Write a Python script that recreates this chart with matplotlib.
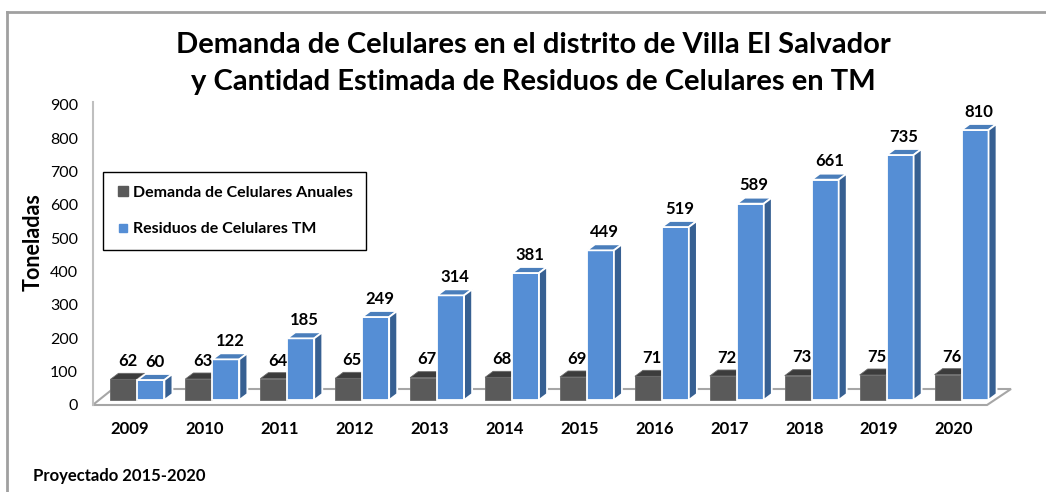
import numpy as np
import matplotlib.pyplot as plt
from matplotlib.patches import Polygon
from matplotlib.lines import Line2D

plt.rcParams['font.family'] = ['Lato', 'DejaVu Sans']

years = ['2009', '2010', '2011', '2012', '2013', '2014',
         '2015', '2016', '2017', '2018', '2019', '2020']
demanda = [62, 63, 64, 65, 67, 68, 69, 71, 72, 73, 75, 76]
residuos = [60, 122, 185, 249, 314, 381, 449, 519, 589, 661, 735, 810]

W, H = 1046, 492
fig = plt.figure(figsize=(W / 100, H / 100), dpi=100)
ax = fig.add_axes([85 / W, 1 - 415 / H, (1020 - 85) / W, (415 - 95) / H])
ax.set_xlim(-0.6, 11.88)
ax.set_ylim(-30, 930)

# pseudo 3d settings (data units)
base = 15
dx = 0.107
dy = 18

gray_c = ('#5a5a5a', '#3c3c3c', '#333333')
blue_c = ('#558ed5', '#4a7ebb', '#376092')

x = np.arange(len(years))

# floor and wall
ax.add_patch(Polygon([(-0.497, 0), (11.44, 0), (11.76, 48), (-0.23, 48)],
                     closed=True, fc='white', ec='#a6a6a6', lw=1.5, zorder=1))
ax.plot([-0.497, -0.497], [0, 909], color='#bfbfbf', lw=1.5, zorder=1)


def faces(x0, w, h, cols, z, ec, lw):
    x1 = x0 + w
    y1 = base + h
    top = [(x0, y1), (x0 + dx, y1 + dy), (x1 + dx, y1 + dy), (x1, y1)]
    side = [(x1, base), (x1 + dx, base + dy), (x1 + dx, y1 + dy), (x1, y1)]
    ax.add_patch(Polygon(top, closed=True, fc=cols[1], ec=ec, lw=lw, zorder=z))
    ax.add_patch(Polygon(side, closed=True, fc=cols[2], ec=ec, lw=lw, zorder=z))


gw, bw = 0.35, 0.36
gx = x - 0.26
bx = x + 0.10

ax.bar(gx, demanda, width=gw, bottom=base, align='edge', color=gray_c[0],
       edgecolor='#6a6a6a', lw=0.6, zorder=3)
for xi, v in zip(gx, demanda):
    faces(xi, gw, v, gray_c, 3, '#6a6a6a', 0.6)

ax.bar(bx, residuos, width=bw, bottom=base, align='edge', color=blue_c[0],
       edgecolor='white', lw=1.3, zorder=4)
for xi, v in zip(bx, residuos):
    faces(xi, bw, v, blue_c, 4, 'white', 1.3)

for xi, v in zip(gx, demanda):
    ax.annotate(str(v), (xi + gw / 2 + dx / 2, base + v + dy), xytext=(0, 3),
                textcoords='offset points', ha='center', va='bottom',
                fontsize=12, fontweight='bold', zorder=6)
for xi, v in zip(bx, residuos):
    ax.annotate(str(v), (xi + bw / 2 + dx / 2, base + v + dy), xytext=(0, 3),
                textcoords='offset points', ha='center', va='bottom',
                fontsize=12, fontweight='bold', zorder=6)

for s in ax.spines.values():
    s.set_visible(False)
ax.set_yticks(range(0, 901, 100))
ax.set_xticks(x)
ax.set_xticklabels(years, fontweight='bold', fontsize=12)
ax.tick_params(axis='y', length=0, pad=5, labelsize=11.5)
ax.tick_params(axis='x', length=0, pad=4)

# legend
handles = [Line2D([], [], marker='s', ls='none', color=gray_c[0], markersize=7.5),
           Line2D([], [], marker='s', ls='none', color=blue_c[0], markersize=5.5)]
leg = fig.legend(handles, ['Demanda de Celulares Anuales', 'Residuos de Celulares TM'],
                 loc='upper left', bbox_to_anchor=(103 / W, 1 - 172 / H),
                 borderaxespad=0, frameon=True, fancybox=False, framealpha=1,
                 edgecolor='black', labelspacing=1.4, handletextpad=0.2,
                 handlelength=0.8, borderpad=0.85,
                 prop={'weight': 'bold', 'size': 11.5})
leg.get_frame().set_linewidth(1)

# titles and texts
tfam = ['Lato', 'DejaVu Sans']
fig.text(533 / W, 1 - 45 / H, 'Demanda de Celulares en el distrito de Villa El Salvador',
         ha='center', va='center', fontsize=21, fontweight='bold', family=tfam)
fig.text(533 / W, 1 - 82 / H, 'y Cantidad Estimada de Residuos de Celulares en TM',
         ha='center', va='center', fontsize=21, fontweight='bold', family=tfam)
fig.text(33 / W, 1 - 242 / H, 'Toneladas', rotation=90, ha='center', va='center',
         fontsize=15.5, fontweight='bold')
fig.text(33 / W, 1 - 476 / H, 'Proyectado 2015-2020', ha='left', va='center',
         fontsize=12, fontweight='bold')

# chart border
fig.add_artist(Line2D([7 / W, 7 / W], [0, 1 - 12 / H], color='#a0a0a0', lw=2))
fig.add_artist(Line2D([7 / W, 1], [1 - 12 / H, 1 - 12 / H], color='#a0a0a0', lw=2))

fig.savefig('out.png', dpi=100)
